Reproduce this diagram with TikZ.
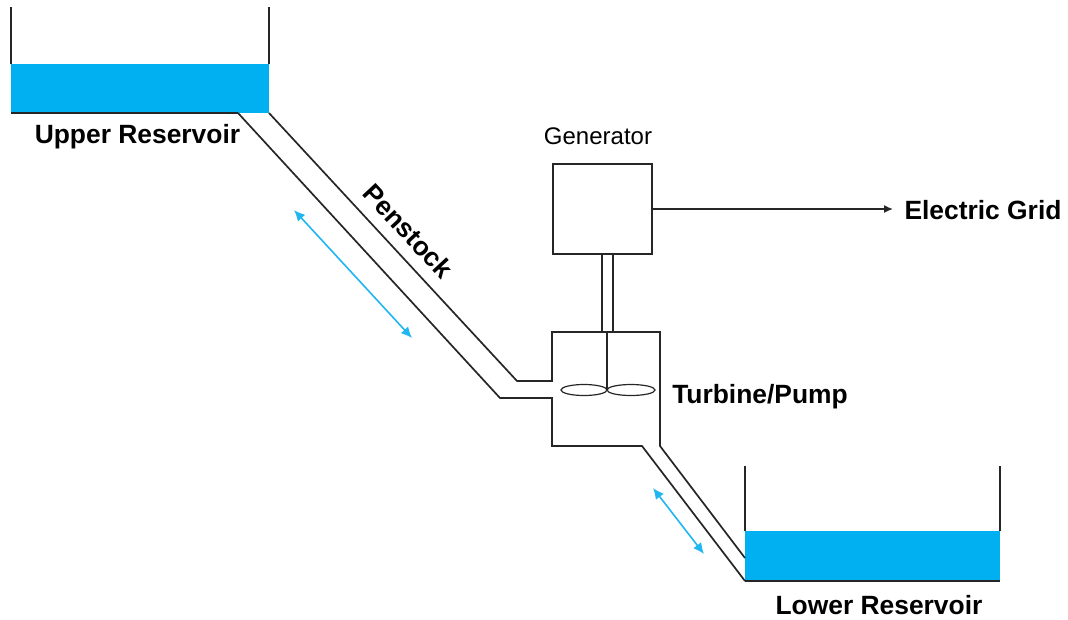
\documentclass[tikz,border=0pt]{standalone}
\usepackage{fontspec}
\setmainfont{Liberation Sans}
\usetikzlibrary{arrows.meta}
\definecolor{water}{HTML}{00B0F0}
\definecolor{flow}{HTML}{1FB6F2}
\definecolor{ink}{HTML}{262626}
\tikzset{
  x=1pt,y=-1pt,
  pipe/.style={draw=ink,line width=1.7pt,line join=miter},
  waterfill/.style={fill=water,draw=none},
  flowarrow/.style={draw=flow,line width=1.6pt,{Latex[length=11pt,width=10pt]}-{Latex[length=11pt,width=10pt]}},
  label/.style={font=\bfseries\fontsize{26.4}{30}\selectfont,text=black,inner sep=0pt},
  plainlabel/.style={font=\fontsize{24}{29}\selectfont,text=black,inner sep=0pt},
}
\begin{document}
\begin{tikzpicture}
\useasboundingbox (0,0) rectangle (1068,619);
% upper reservoir
\draw[pipe] (11,7) -- (11,64);
\draw[pipe] (269,7) -- (269,64);
\fill[waterfill] (11,64) rectangle (269,113);
\draw[pipe] (11,113) -- (238,113);
% lower reservoir
\draw[pipe] (745,466) -- (745,531);
\draw[pipe] (1000,466) -- (1000,531);
\fill[waterfill] (745,531) rectangle (1000,581);
\draw[pipe] (745,581) -- (1000,581);
% penstock and turbine housing
\draw[pipe] (269,113) -- (517,381) -- (552,381) -- (552,332) -- (660,332) -- (660,446) -- (745,558);
\draw[pipe] (238,113) -- (500,398) -- (552,398) -- (552,446) -- (642,446) -- (745,581);
% generator, shaft, blades
\node[draw=ink,line width=1.7pt,minimum width=99pt,minimum height=90pt,inner sep=0pt] (gen) at (602.5,209) {};
\draw[pipe] (602,254) -- (602,332);
\draw[pipe] (613,254) -- (613,332);
\draw[pipe] (607,332) -- (607,390);
\draw[draw=ink,line width=1.2pt] (584,390) ellipse [x radius=23,y radius=5.5];
\draw[draw=ink,line width=1.2pt] (631,390) ellipse [x radius=24,y radius=5.5];
% labels
\node[label] (upper) at (137.5,137) {Upper Reservoir};
\node[label] (lower) at (879,605) {Lower Reservoir};
\node[label] (grid) at (983,210) {Electric Grid};
\node[label] (turbine) at (760,397) {Turbine/Pump};
\node[label,rotate=-47] (penstock) at (408,231) {Penstock};
\node[plainlabel] (genlabel) at (598,136) {Generator};
% grid connector
\draw[draw=ink,line width=1.5pt,-{Latex[length=9pt,width=8pt]}] (gen.east) -- (893,209);
% flow arrows
\coordinate (fa) at (294,210);
\coordinate (fb) at (412,338);
\coordinate (fc) at (653,488);
\coordinate (fd) at (704,554);
\draw[flowarrow] (fa) -- (fb);
\draw[flowarrow] (fc) -- (fd);
\end{tikzpicture}
\end{document}
